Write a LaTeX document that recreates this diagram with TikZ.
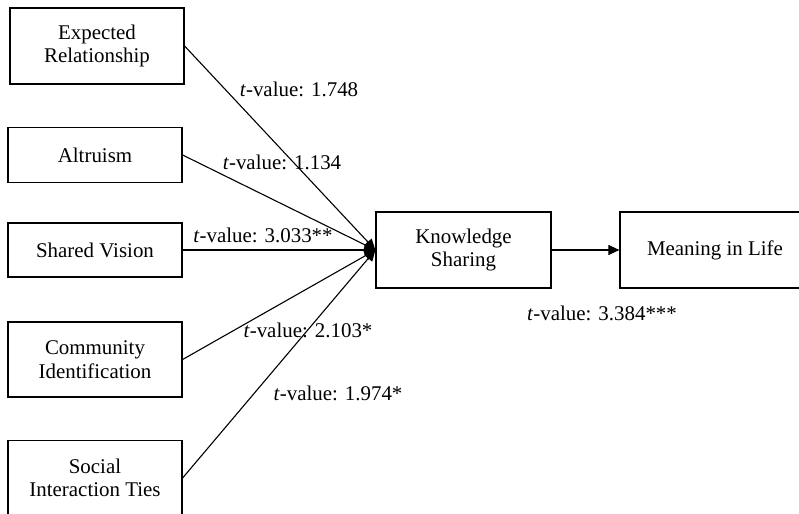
\documentclass[tikz,border=0pt]{standalone}
\usepackage{fontspec}
\setmainfont{Liberation Serif}
\usetikzlibrary{arrows.meta}
\begin{document}
\begin{tikzpicture}[x=1bp,y=-1bp,
  box/.style={draw,line width=1.2bp,inner sep=0pt,align=center,font=\fontsize{21}{23.5}\selectfont},
  lab/.style={font=\fontsize{21}{23.5}\selectfont,inner sep=0pt},
  conn/.style={line width=1.1bp,-{Triangle[length=11bp,width=10bp]}}]
\useasboundingbox (0,0) rectangle (799,514);
\node[box,minimum width=174bp,minimum height=76bp] (er) at (97,46) {Expected\\Relationship};
\node[box,minimum width=174bp,minimum height=55bp] (al) at (95,155) {Altruism};
\node[box,minimum width=174bp,minimum height=54bp] (sv) at (95,250) {Shared Vision};
\node[box,minimum width=174bp,minimum height=75bp] (ci) at (95,359.5) {Community\\Identification};
\node[box,minimum width=174bp,minimum height=75bp] (si) at (95,478) {Social\\Interaction Ties};
\node[box,minimum width=175bp,minimum height=76bp] (ks) at (463.5,250) {Knowledge\\Sharing};
\node[box,minimum width=190bp,minimum height=76bp] (ml) at (715,250) {Meaning in Life};
\coordinate (tip) at (ks.west);
\draw[conn] (er.east) -- (tip);
\draw[conn] (al.east) -- (tip);
\draw[conn] (sv.east) -- (tip);
\draw[conn] (ci.east) -- (tip);
\draw[conn] (si.east) -- (tip);
\draw[conn] (ks.east) -- (ml.west);
\node[lab] (l1) at (299,89) {\textit{t}-value: 1.748};
\node[lab] (l2) at (282,162) {\textit{t}-value: 1.134};
\node[lab] (l3) at (263,235) {\textit{t}-value: 3.033**};
\node[lab] (l4) at (308,330) {\textit{t}-value: 2.103*};
\node[lab] (l5) at (338,393) {\textit{t}-value: 1.974*};
\node[lab] (l6) at (602,313) {\textit{t}-value: 3.384***};
\end{tikzpicture}
\end{document}
